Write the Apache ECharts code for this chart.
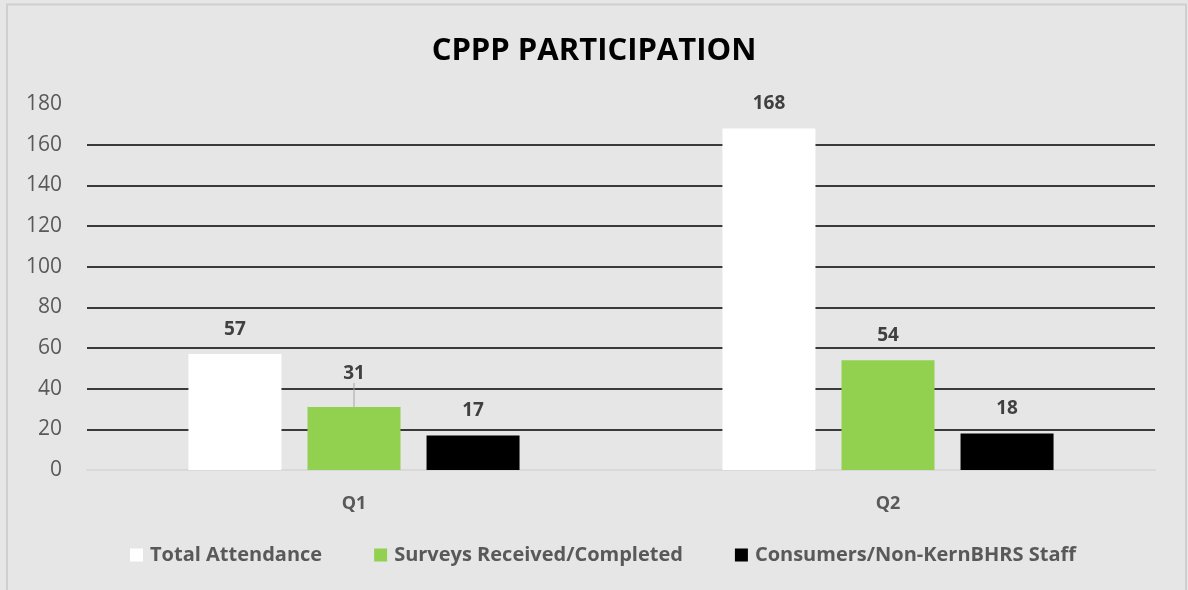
<!DOCTYPE html>
<html>
<head>
<meta charset="utf-8">
<script src="https://cdn.jsdelivr.net/npm/echarts@6/dist/echarts.min.js"></script>
<style>
html,body{margin:0;padding:0;background:#fff;}
#chart{width:1188px;height:590px;}
</style>
</head>
<body>
<div id="chart"></div>
<script>
/* CPPP participation chart */

const categories=["Q1","Q2"];

const totalAttendance=[57,168];
const surveysCompleted=[31,54];
const consumersStaff=[17,18];

const seriesNames=["Total Attendance","Surveys Received/Completed","Consumers/Non-KernBHRS Staff"];

const chart=echarts.init(document.getElementById("chart"));

const FONT="'Open Sans', sans-serif";

function barSeries(name,data,color){

    return {
        name:name,
        type:"bar",
        data:data,
        barGap:"28%",
        barCategoryGap:"38%",
        itemStyle:{
            color:color
        },
        label:{
            show:true,
            position:"top",
            distance:15,
            fontFamily:FONT,
            fontWeight:"bold",
            fontSize:19,
            color:"#404040"
        },
        labelLine:{
            show:false,
            lineStyle:{
                color:"#a6a6a6",
                width:1
            }
        }
    };

}

const option={

    backgroundColor:"#e6e6e6",

    animation:false,

    graphic:[{
        type:"rect",
        shape:{x:7,y:4.5,width:1179,height:620},
        style:{fill:"none",stroke:"#cfcfcf",lineWidth:2},
        silent:true
    }],

    title:{
        text:"CPPP PARTICIPATION",
        left:"center",
        top:31,
        textStyle:{
            fontFamily:FONT,
            fontWeight:"bold",
            fontSize:31,
            color:"#000"
        }
    },

    legend:{
        bottom:20,
        left:125,
        icon:"rect",
        itemWidth:13,
        itemHeight:13,
        itemGap:52,
        textStyle:{
            fontFamily:FONT,
            fontWeight:"bold",
            fontSize:20,
            color:"#595959",
            padding:[0,0,0,2]
        },
        data:seriesNames
    },

    grid:{
        left:87,
        right:33,
        top:104,
        bottom:120,
        containLabel:false
    },

    xAxis:{
        type:"category",
        data:categories,
        axisTick:{show:false},
        axisLine:{
            lineStyle:{
                color:"#d9d9d9",
                width:2
            }
        },
        axisLabel:{
            margin:25,
            fontFamily:FONT,
            fontWeight:"bold",
            fontSize:18,
            color:"#595959"
        }
    },

    yAxis:{
        type:"value",
        min:0,
        max:180,
        interval:20,
        axisLine:{show:false},
        axisTick:{show:false},
        axisLabel:{
            margin:25,
            fontFamily:FONT,
            fontSize:21,
            color:"#595959"
        },
        splitLine:{
            lineStyle:{
                color:["transparent","#000","#000","#000","#000","#000","#000","#000","#000","transparent"],
                width:1.5
            }
        }
    },

    series:[
        barSeries(seriesNames[0],totalAttendance,"#ffffff"),
        barSeries(seriesNames[1],surveysCompleted.map((v,i)=>i===0?{value:v,labelLine:{show:true}}:v),"#92d050"),
        barSeries(seriesNames[2],consumersStaff,"#000000")
    ]

};

// the "31" label sits a little higher with a leader line
option.series[1].labelLayout=function(params){

    if(params.dataIndex===0){

        return {dy:-9};

    }

    return {};

};

chart.setOption(option);

</script>
</body>
</html>
